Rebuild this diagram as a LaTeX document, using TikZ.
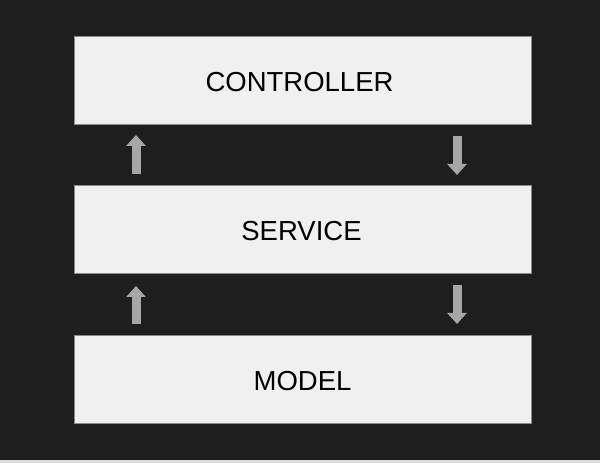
\documentclass[tikz,border=0pt]{standalone}
\usepackage{fontspec}
\setmainfont{Liberation Sans}
\usetikzlibrary{arrows.meta}
\definecolor{bgdark}{HTML}{1E1E1E}
\definecolor{boxfill}{HTML}{F0F0F0}
\definecolor{boxline}{HTML}{8A8A8A}
\definecolor{arrowgrey}{HTML}{A6A6A6}
\definecolor{strip}{HTML}{DCDCDC}
\tikzset{
  layerbox/.style={draw=boxline, line width=1pt, fill=boxfill, minimum width=457pt, minimum height=88pt, inner sep=0pt, anchor=center},
  layertext/.style={font=\fontsize{27.5}{30}\selectfont, text=black, inner sep=0pt, anchor=center},
  flowarrow/.style={draw=arrowgrey, line width=9pt, -{Triangle[width=19pt,length=11pt]}, arrowgrey}
}
\begin{document}
\begin{tikzpicture}[x=1pt,y=1pt]
\useasboundingbox (0,0) rectangle (600,463);
\fill[bgdark] (0,0) rectangle (600,463);
\fill[strip] (0,0) rectangle (600,3);
\node[layerbox] (ctrl) at (302.5,382.5) {};
\node[layerbox] (serv) at (302.5,233) {};
\node[layerbox] (model) at (302.5,83.5) {};
\node[layertext] (ctrlt) at ([shift={(-3,-1.5)}]ctrl.center) {CONTROLLER};
\node[layertext] (servt) at ([shift={(-1,-1.5)}]serv.center) {SERVICE};
\node[layertext] (modelt) at ([shift={(0,-1.5)}]model.center) {MODEL};
\coordinate (u1s) at (136,289);
\coordinate (u1e) at (136,328);
\coordinate (d1s) at (457,327);
\coordinate (d1e) at (457,288);
\coordinate (u2s) at (136,139);
\coordinate (u2e) at (136,177);
\coordinate (d2s) at (457,178);
\coordinate (d2e) at (457,139);
\draw[flowarrow] (u1s) -- (u1e);
\draw[flowarrow] (d1s) -- (d1e);
\draw[flowarrow] (u2s) -- (u2e);
\draw[flowarrow] (d2s) -- (d2e);
\end{tikzpicture}
\end{document}
